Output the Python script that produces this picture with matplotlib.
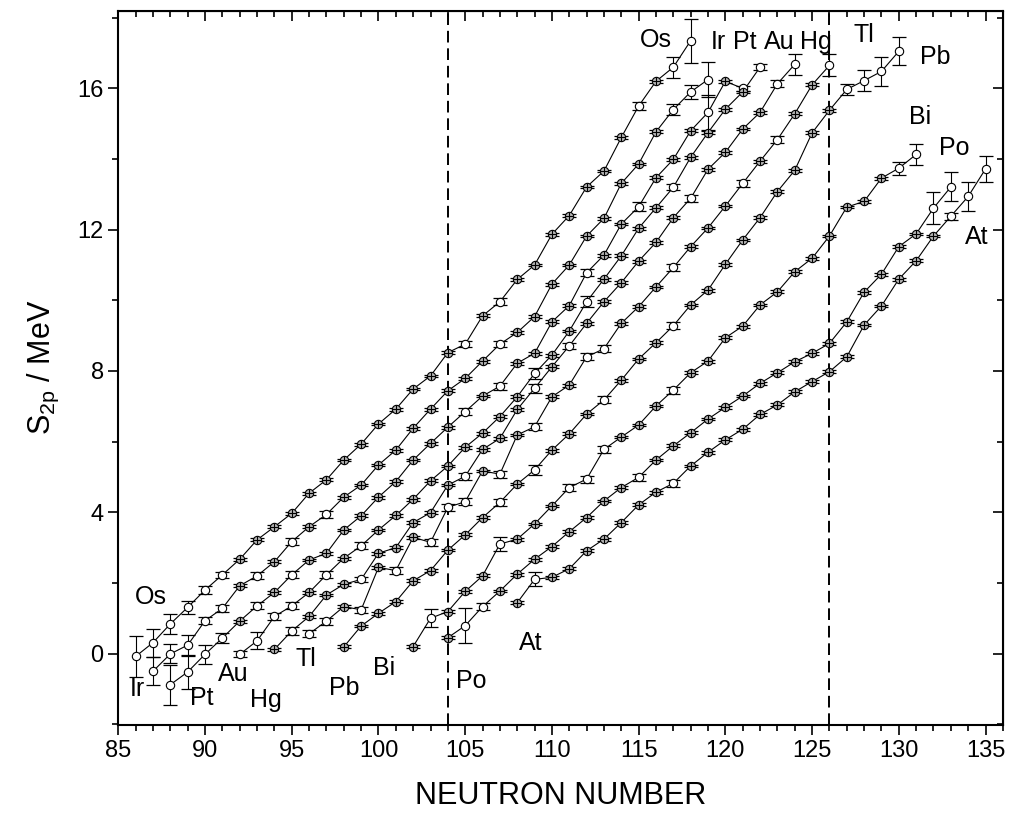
import matplotlib.pyplot as plt
import numpy as np

plt.rcParams['font.family'] = ['Liberation Sans', 'DejaVu Sans']

# two-proton separation energies (MeV), one value per neutron number
os_n0 = 86
os_s2p = [-0.08, 0.31, 0.84, 1.31, 1.80, 2.23, 2.67, 3.22, 3.59, 3.97, 4.54, 4.92, 5.48,
          5.93, 6.50, 6.92, 7.49, 7.86, 8.52, 8.76, 9.56, 9.96, 10.59, 11.00, 11.87,
          12.40, 13.21, 13.66, 14.61, 15.50, 16.20, 16.60, 17.35]
ir_n0 = 87
ir_s2p = [-0.50, -0.01, 0.24, 0.93, 1.28, 1.92, 2.20, 2.60, 3.17, 3.59, 3.94, 4.43, 4.77,
          5.34, 5.76, 6.38, 6.92, 7.44, 7.79, 8.28, 8.76, 9.09, 9.54, 10.46, 11.00, 11.82,
          12.32, 13.31, 13.86, 14.77, 15.40, 15.90, 16.25]
pt_n0 = 88
pt_s2p = [-0.88, -0.52, -0.02, 0.44, 0.92, 1.35, 1.73, 2.23, 2.65, 2.84, 3.50, 3.90, 4.43,
          4.87, 5.48, 5.95, 6.41, 6.85, 7.29, 7.57, 8.22, 8.50, 9.39, 9.85, 10.78, 11.28,
          12.16, 12.65, 13.47, 13.99, 14.80, 15.32, 16.20, 16.00]
au_n0 = 92
au_s2p = [-0.02, 0.36, 1.05, 1.35, 1.73, 2.23, 2.70, 3.05, 3.50, 3.91, 4.37, 4.89, 5.31,
          5.84, 6.24, 6.71, 7.27, 7.93, 8.45, 9.13, 9.96, 10.60, 11.26, 12.04, 12.62, 13.20,
          14.05, 14.75, 15.41, 15.90, 16.60]
hg_n0 = 94
hg_s2p = [0.12, 0.64, 1.05, 1.66, 1.96, 2.10, 2.84, 3.00, 3.71, 3.99, 4.77, 5.02, 5.78,
          6.09, 6.91, 7.51, 8.12, 8.71, 9.35, 9.96, 10.50, 11.11, 11.64, 12.34, 12.89, 13.71,
          14.19, 14.85, 15.32, 16.13, 16.68]
tl_n0 = 96
tl_s2p = [0.56, 0.92, 1.33, 1.24, 2.44, 2.35, 3.29, 3.15, 4.14, 4.30, 5.17, 5.08, 6.19,
          6.42, 7.27, 7.60, 8.40, 8.63, 9.35, 9.82, 10.38, 10.93, 11.52, 12.05, 12.67, 13.31,
          13.94, 14.55, 15.28, 16.10, 16.65]
pb_n0 = 98
pb_s2p = [0.19, 0.78, 1.14, 1.47, 2.06, 2.35, 2.93, 3.36, 3.85, 4.28, 4.80, 5.20, 5.76,
          6.22, 6.78, 7.18, 7.74, 8.34, 8.80, 9.28, 9.87, 10.29, 11.02, 11.71, 12.34, 13.08,
          13.68, 14.74, 15.38, 15.97, 16.22, 16.48, 17.05]
bi_n0 = 102
bi_s2p = [0.20, 1.00, 1.19, 1.76, 2.20, 3.10, 3.24, 3.67, 4.18, 4.70, 4.94, 5.78, 6.13,
          6.47, 7.01, 7.46, 7.95, 8.28, 8.94, 9.27, 9.87, 10.24, 10.81, 11.19, 11.82, 12.64,
          12.80, 13.46, 13.74, 14.13]
po_n0 = 104
po_s2p = [0.45, 0.79, 1.33, 1.77, 2.25, 2.67, 3.03, 3.45, 3.85, 4.32, 4.70, 4.99, 5.48,
          5.88, 6.25, 6.64, 6.97, 7.29, 7.65, 7.95, 8.26, 8.50, 8.78, 9.39, 10.23, 10.74,
          11.52, 11.88, 12.61, 13.21]
at_n0 = 108
at_s2p = [1.44, 2.10, 2.16, 2.40, 2.91, 3.24, 3.71, 4.21, 4.57, 4.82, 5.31, 5.70, 6.05,
          6.35, 6.77, 7.04, 7.41, 7.70, 7.98, 8.40, 9.30, 9.84, 10.60, 11.12, 11.82, 12.38,
          12.94, 13.72]

# points drawn as open circles, with their error bars (MeV)
os_open = {86: 0.57, 87: 0.4, 88: 0.28, 89: 0.19, 90: 0.1, 91: 0.08, 105: 0.08,
           107: 0.1, 115: 0.12, 117: 0.3, 118: 0.62}
ir_open = {87: 0.4, 88: 0.27, 89: 0.3, 90: 0.1, 91: 0.1, 93: 0.1, 95: 0.1, 97: 0.1,
           107: 0.08, 117: 0.15, 118: 0.2, 119: 0.5}
pt_open = {88: 0.57, 89: 0.47, 90: 0.27, 91: 0.15, 93: 0.1, 95: 0.1, 105: 0.1, 107: 0.1,
           112: 0.1, 115: 0.12, 119: 0.5, 121: 0.08}
au_open = {92: 0.08, 93: 0.24, 94: 0.1, 95: 0.1, 97: 0.1, 99: 0.1, 109: 0.15, 112: 0.15,
           117: 0.08, 122: 0.08}
hg_open = {95: 0.12, 99: 0.08, 105: 0.1, 109: 0.12, 111: 0.08, 118: 0.1, 123: 0.1,
           124: 0.29}
tl_open = {96: 0.1, 97: 0.1, 99: 0.08, 101: 0.1, 103: 0.1, 104: 0.1, 105: 0.1,
           107: 0.1, 109: 0.1, 112: 0.1, 113: 0.1, 117: 0.1, 121: 0.1, 123: 0.1, 126: 0.31}
pb_open = {107: 0.1, 109: 0.15, 113: 0.1, 117: 0.1, 127: 0.15, 128: 0.3, 129: 0.4,
           130: 0.4}
bi_open = {103: 0.25, 107: 0.2, 111: 0.1, 112: 0.1, 113: 0.1, 117: 0.1, 130: 0.19,
           131: 0.29}
po_open = {105: 0.49, 106: 0.1, 115: 0.1, 132: 0.45, 133: 0.41}
at_open = {109: 0.2, 117: 0.1, 133: 0.1, 134: 0.42, 135: 0.36}

series = [
    ('Os', os_n0, os_s2p, os_open),
    ('Ir', ir_n0, ir_s2p, ir_open),
    ('Pt', pt_n0, pt_s2p, pt_open),
    ('Au', au_n0, au_s2p, au_open),
    ('Hg', hg_n0, hg_s2p, hg_open),
    ('Tl', tl_n0, tl_s2p, tl_open),
    ('Pb', pb_n0, pb_s2p, pb_open),
    ('Bi', bi_n0, bi_s2p, bi_open),
    ('Po', po_n0, po_s2p, po_open),
    ('At', at_n0, at_s2p, at_open),
]

# element names next to both ends of each chain
low_labels = {'Os': (86.9, 1.6), 'Ir': (86.1, -1.0), 'Pt': (89.8, -1.25), 'Au': (91.6, -0.58),
              'Hg': (93.5, -1.31), 'Tl': (95.8, -0.15), 'Pb': (98.0, -0.98), 'Bi': (100.3, -0.41),
              'Po': (105.35, -0.77), 'At': (108.8, 0.3)}
high_labels = {'Os': (116.0, 17.36), 'Ir': (119.6, 17.3), 'Pt': (121.1, 17.3), 'Au': (123.1, 17.3),
               'Hg': (125.2, 17.3), 'Tl': (128.0, 17.5), 'Pb': (132.1, 16.9), 'Bi': (131.25, 15.2),
               'Po': (133.2, 14.3), 'At': (134.5, 11.8)}

fig = plt.figure(figsize=(10.13, 8.21), dpi=100)
ax = fig.add_axes([0.1168, 0.117, 0.8732, 0.870])

for name, n0, vals, opened in series:
    n = np.arange(n0, n0 + len(vals))
    v = np.array(vals)
    e = np.array([opened.get(k, 0.04) for k in n])
    ax.plot(n, v, color='black', lw=0.8, zorder=2)
    ax.errorbar(n, v, yerr=e, fmt='none', ecolor='black', elinewidth=0.8,
                capsize=5, capthick=0.9, zorder=3)
    is_open = np.array([k in opened for k in n])
    ax.plot(n[is_open], v[is_open], 'o', ms=6, mfc='white', mec='black', mew=0.8, zorder=4)
    ax.plot(n[~is_open], v[~is_open], 'o', ms=6, mfc='#b4b4b4', mec='black', mew=0.8, zorder=4)
    ax.plot(n[~is_open], v[~is_open], '+', ms=6, color='black', mew=0.8, zorder=5)
    ax.text(*low_labels[name], name, fontsize=18, ha='center', va='center')
    ax.text(*high_labels[name], name, fontsize=18, ha='center', va='center')

for shell in (104, 126):
    ax.axvline(shell, color='black', lw=1.4, ls=(0, (6, 3)), zorder=1)

ax.set_xlim(85, 136)
ax.set_ylim(-2.02, 18.2)
ax.set_xticks(np.arange(85, 136, 5))
ax.set_xticks(np.arange(85, 137, 1), minor=True)
ax.set_yticks([0, 4, 8, 12, 16])
ax.set_yticks(np.arange(-2, 19, 2), minor=True)
ax.tick_params(which='both', direction='out', width=1.2, labelsize=17, top=False, right=False)
ax.tick_params(which='major', length=7)
ax.tick_params(which='minor', length=4)

# inward ticks without labels on the top and right frame
top = ax.secondary_xaxis('top')
top.set_xticks(np.arange(85, 136, 5))
top.set_xticks(np.arange(85, 137, 1), minor=True)
top.tick_params(which='both', direction='in', width=1.2, labeltop=False)
top.tick_params(which='major', length=7)
top.tick_params(which='minor', length=4)
right = ax.secondary_yaxis('right')
right.set_yticks([0, 4, 8, 12, 16])
right.set_yticks(np.arange(-2, 19, 2), minor=True)
right.tick_params(which='both', direction='in', width=1.2, labelright=False)
right.tick_params(which='major', length=7)
right.tick_params(which='minor', length=4)
for sp in ax.spines.values():
    sp.set_linewidth(1.5)

ax.set_xlabel('NEUTRON NUMBER', fontsize=22, labelpad=14)
ax.set_ylabel('S$_{\\mathregular{2p}}$ / MeV', fontsize=22, labelpad=12)

fig.savefig('out.png', dpi=100)
